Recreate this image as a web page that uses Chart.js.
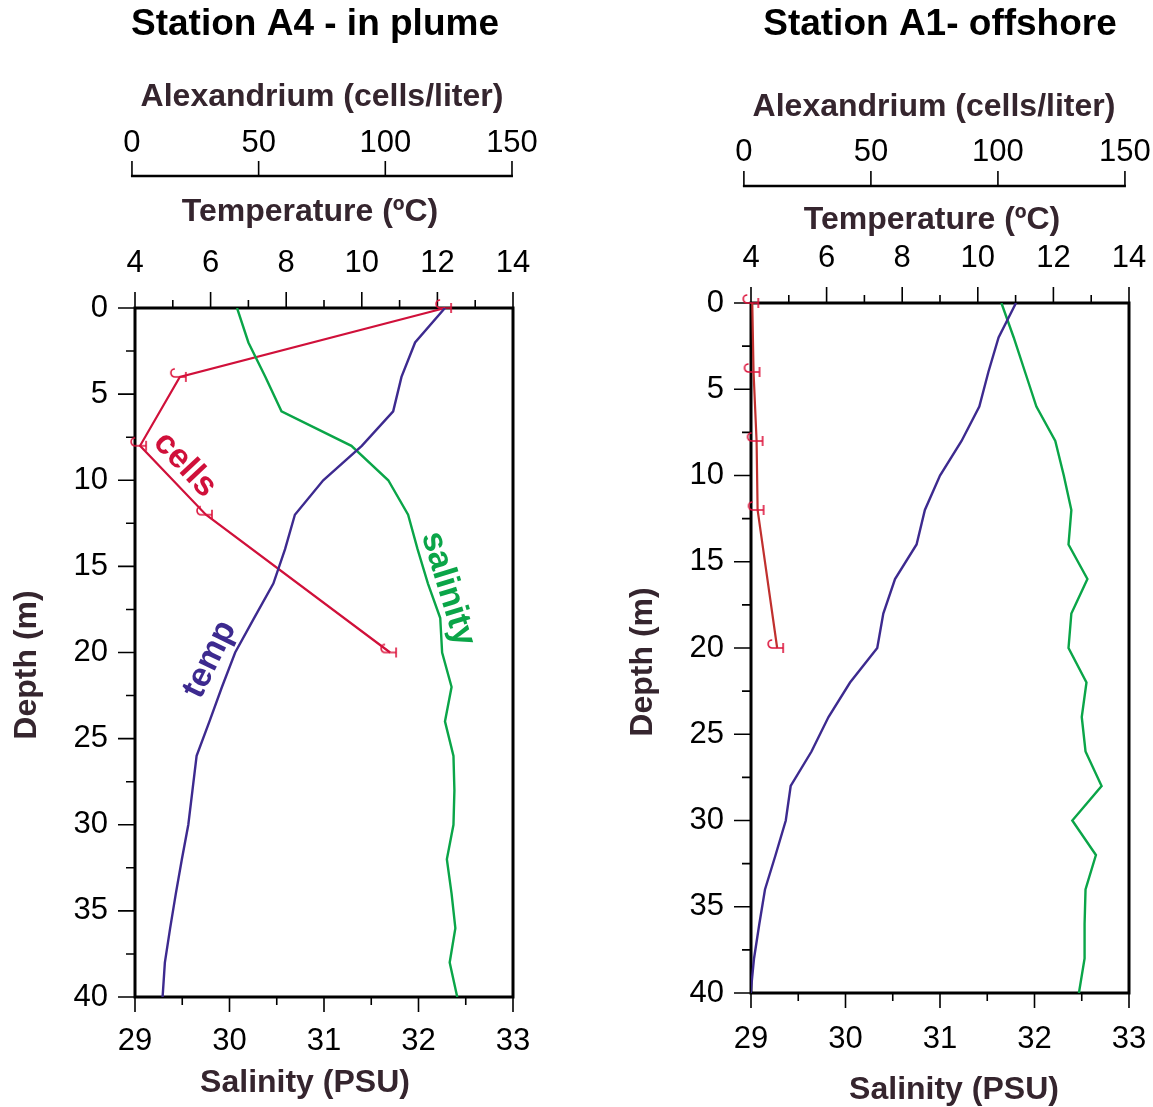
<!DOCTYPE html>
<html>
<head>
<meta charset="utf-8">
<script src="https://cdn.jsdelivr.net/npm/chart.js@4.4.1/dist/chart.umd.min.js"></script>
<style>
body{margin:0;background:#fff;}
#wrap{position:relative;width:1153px;height:1107px;overflow:hidden;}
canvas{position:absolute;top:0;}
</style>
</head>
<body>
<div id="wrap">
<canvas id="chartA4" width="576" height="1107" style="left:0"></canvas>
<canvas id="chartA1" width="587" height="1107" style="left:566px"></canvas>
</div>
<script>
// depth of CTD readings (m)
const depths = [0,2,4,6,8,10,12,14,16,18,20,22,24,26,28,30,32,34,36,38,40]
// depth of cell counts (m)
const cellDepths = [0,4,8,12,20]

// Station A4 - in plume
const tempA4 = [12.2,11.41,11.05,10.83,10.0,8.98,8.23,7.97,7.66,7.15,6.65,6.3,5.97,5.63,5.52,5.41,5.24,5.08,4.93,4.79,4.73]
const salA4 = [30.08,30.2,30.38,30.55,31.29,31.68,31.89,31.99,32.1,32.23,32.25,32.35,32.28,32.37,32.38,32.37,32.3,32.35,32.39,32.33,32.41]
const cellsA4 = [123.6,18.9,3.2,29.2,101.9]

// Station A1 - offshore
const tempA1 = [11.01,10.55,10.28,10.04,9.57,9.0,8.6,8.38,7.81,7.5,7.34,6.62,6.05,5.6,5.05,4.92,4.65,4.37,4.22,4.08,3.99]
const salA1 = [31.65,31.78,31.9,32.02,32.22,32.31,32.39,32.36,32.56,32.39,32.36,32.55,32.5,32.54,32.71,32.4,32.65,32.54,32.53,32.53,32.47]
const cellsA1 = [3.3,3.8,5.0,5.4,13.1]

// axis ticks
const depthTicks = [0,5,10,15,20,25,30,35,40]
const tempTicks = [4,6,8,10,12,14]
const salTicks = [29,30,31,32,33]
const cellTicks = [0,50,100,150]

const FONT = "'Liberation Sans', Arial, Helvetica, sans-serif"
const TITLE_COLOR = '#35252e'
Chart.defaults.font.family = FONT
Chart.defaults.color = '#000'

function pts(xs, ys){
    return xs.map((x,i)=>({x:x, y:ys[i]}))
}

// little "C" + error bar marker for the cell counts
function cellMarker(color){
    const c = document.createElement('canvas')
    c.width = 28; c.height = 22
    const g = c.getContext('2d')
    g.translate(14,11)
    g.strokeStyle = color
    g.lineWidth = 1.6
    g.beginPath()
    g.arc(-5,-4,4,-Math.PI/2,Math.PI/2,true)
    g.lineTo(6,0)
    g.moveTo(6,-5)
    g.lineTo(6,5)
    g.stroke()
    return c
}

// fixed box sizes so the plot frame lands where it should
function fixSize(prop, size){
    return s=>{
        s[prop] = size
        s.paddingLeft = 0; s.paddingRight = 0
        s.paddingTop = 0; s.paddingBottom = 0
    }
}

function makeDecor(cfg){
    const spec = {
        y:{from:0, to:40, major:5, minor:2.5, majLen:17, minLen:9},
        xTemp:{from:4, to:14, major:2, minor:1, majLen:16, minLen:8},
        xSal:{from:29, to:33, major:1, minor:0.5, majLen:15, minLen:8},
        xCells:{from:0, to:150, major:50, minor:50, majLen:15, minLen:15}
    }
    return {
        id:'decor',
        beforeDatasetsDraw(chart){
            const ctx = chart.ctx
            const a = chart.chartArea
            ctx.save()
            ctx.strokeStyle = '#000'
            ctx.lineWidth = 3
            ctx.strokeRect(a.left, a.top, a.right-a.left, a.bottom-a.top)
            ctx.lineWidth = 1.6
            ctx.beginPath()
            Object.keys(spec).forEach(id=>{
                const s = chart.scales[id], t = spec[id]
                const n = Math.round((t.to-t.from)/t.minor)
                for(let i=0;i<=n;i++){
                    const v = t.from + i*t.minor
                    const maj = Math.abs(v/t.major - Math.round(v/t.major)) < 1e-6
                    const len = maj ? t.majLen : t.minLen
                    const p = s.getPixelForValue(v)
                    if(id==='y'){ ctx.moveTo(a.left, p); ctx.lineTo(a.left-len, p) }
                    else if(id==='xTemp'){ ctx.moveTo(p, a.top); ctx.lineTo(p, a.top-len) }
                    else if(id==='xSal'){ ctx.moveTo(p, a.bottom); ctx.lineTo(p, a.bottom+len) }
                    else { ctx.moveTo(p, s.bottom); ctx.lineTo(p, s.bottom-len) }
                }
            })
            ctx.stroke()
            // Alexandrium axis line
            const c = chart.scales.xCells
            ctx.lineWidth = 2.5
            ctx.beginPath()
            ctx.moveTo(c.getPixelForValue(0)-1, c.bottom)
            ctx.lineTo(c.getPixelForValue(150)+1, c.bottom)
            ctx.stroke()
            ctx.restore()
        },
        afterDraw(chart){
            const ctx = chart.ctx
            ctx.save()
            ctx.textAlign = 'center'
            ctx.textBaseline = 'middle'
            ctx.fillStyle = '#000'
            ctx.font = 'bold 37px ' + FONT
            ctx.fillText(cfg.title, cfg.titleX, cfg.titleY)
            // axis titles
            ctx.fillStyle = TITLE_COLOR
            ctx.font = 'bold 32px ' + FONT
            cfg.axisTitles.forEach(t=>{
                ctx.save()
                ctx.translate(t.x, t.y)
                if(t.rot) ctx.rotate(-Math.PI/2)
                ctx.fillText(t.text, 0, 0)
                ctx.restore()
            })
            // curve labels
            ;(cfg.labels || []).forEach(l=>{
                const x = chart.scales[l.scale].getPixelForValue(l.x)
                const y = chart.scales.y.getPixelForValue(l.y)
                ctx.save()
                ctx.translate(x,y)
                ctx.rotate(l.angle*Math.PI/180)
                ctx.fillStyle = l.color
                ctx.font = 'bold 34px ' + FONT
                ctx.fillText(l.text, 0, 0)
                ctx.restore()
            })
            ctx.restore()
        }
    }
}

function makeChart(id, d){
    const ctx = document.getElementById(id).getContext('2d')
    const tickFont = {size:31}
    return new Chart(ctx,{
        type:'line',
        data:{
            datasets:[
                {label:'temp', data:pts(d.temp, depths), xAxisID:'xTemp', yAxisID:'y',
                 borderColor:'#3d2a8f', borderWidth:2.4, pointRadius:0, tension:0},
                {label:'salinity', data:pts(d.sal, depths), xAxisID:'xSal', yAxisID:'y',
                 borderColor:'#0aa548', borderWidth:2.4, pointRadius:0, tension:0},
                {label:'cells', data:pts(d.cells, cellDepths), xAxisID:'xCells', yAxisID:'y',
                 borderColor:d.cellColor, borderWidth:2.2, tension:0, clip:false,
                 pointStyle:cellMarker('#dc143c'), pointRadius:8}
            ]
        },
        options:{
            responsive:false,
            animation:false,
            devicePixelRatio:1,
            layout:{padding:{top:50, right:d.padRight, bottom:0, left:0}},
            plugins:{legend:{display:false}, tooltip:{enabled:false}},
            scales:{
                y:{type:'linear', position:'left', reverse:true, min:0, max:40,
                   afterFit:fixSize('width', d.yWidth),
                   afterBuildTicks:s=>{s.ticks=depthTicks.map(v=>({value:v}))},
                   grid:{display:false, drawTicks:false}, border:{display:false},
                   ticks:{font:tickFont, padding:27}},
                xTemp:{type:'linear', position:'top', min:4, max:14, weight:0,
                   afterFit:fixSize('height', d.tempH),
                   afterBuildTicks:s=>{s.ticks=tempTicks.map(v=>({value:v}))},
                   grid:{display:false, drawTicks:false}, border:{display:false},
                   ticks:{font:tickFont, padding:26, autoSkip:false, maxRotation:0}},
                xCells:{type:'linear', position:'top', min:d.cellMin, max:d.cellMax, weight:1,
                   afterFit:fixSize('height', d.cellH),
                   afterBuildTicks:s=>{s.ticks=cellTicks.map(v=>({value:v}))},
                   grid:{display:false, drawTicks:false}, border:{display:false},
                   ticks:{font:tickFont, padding:d.cellTickPad, autoSkip:false, maxRotation:0}},
                xSal:{type:'linear', position:'bottom', min:29, max:33,
                   afterFit:fixSize('height', d.salH),
                   afterBuildTicks:s=>{s.ticks=salTicks.map(v=>({value:v}))},
                   grid:{display:false, drawTicks:false}, border:{display:false},
                   ticks:{font:tickFont, padding:d.salTickPad, autoSkip:false, maxRotation:0}}
            }
        },
        plugins:[makeDecor(d.decor)]
    })
}

makeChart('chartA4',{
    temp:tempA4, sal:salA4, cells:cellsA4, cellColor:'#d0103a',
    padRight:63, yWidth:135, tempH:132, cellH:126, cellTickPad:14,
    cellMin:1.2, cellMax:150.4,
    salH:110, salTickPad:26,
    decor:{title:'Station A4 - in plume', titleX:315, titleY:25,
        axisTitles:[
            {text:'Alexandrium (cells/liter)', x:322, y:97},
            {text:'Temperature (ºC)', x:310, y:212},
            {text:'Salinity (PSU)', x:305, y:1083},
            {text:'Depth (m)', x:27, y:665, rot:true}
        ],
        labels:[
            {text:'cells', color:'#d0103a', scale:'xTemp', x:5.32, y:9.1, angle:47},
            {text:'salinity', color:'#0aa548', scale:'xSal', x:32.31, y:16.3, angle:73},
            {text:'temp', color:'#3d2a8f', scale:'xTemp', x:5.98, y:20.4, angle:-64}
        ]}
})

makeChart('chartA1',{
    temp:tempA1, sal:salA1, cells:cellsA1, cellColor:'#c0302e',
    padRight:24, yWidth:185, tempH:117, cellH:136, cellTickPad:15,
    cellMin:2.8, cellMax:151.6,
    salH:114, salTickPad:28,
    decor:{title:'Station A1- offshore', titleX:374, titleY:25,
        axisTitles:[
            {text:'Alexandrium (cells/liter)', x:368, y:107},
            {text:'Temperature (ºC)', x:366, y:220},
            {text:'Salinity (PSU)', x:388, y:1090},
            {text:'Depth (m)', x:77, y:662, rot:true}
        ],
        labels:[]}
})
</script>
</body>
</html>
